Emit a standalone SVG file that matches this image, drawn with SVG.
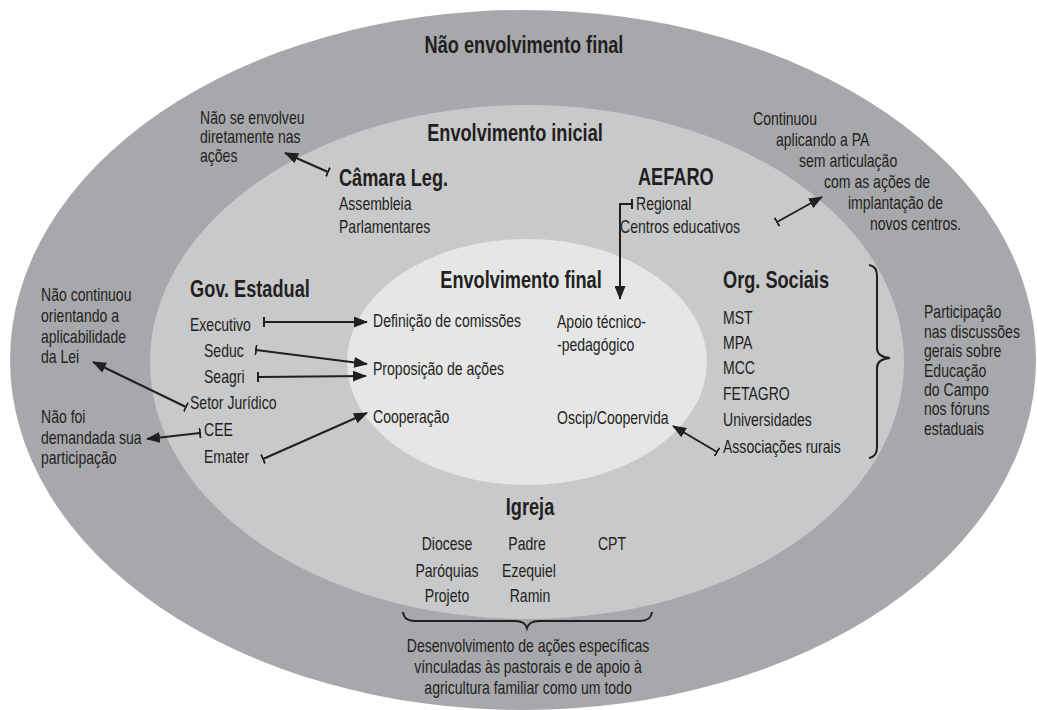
<svg xmlns="http://www.w3.org/2000/svg" width="1037" height="710" viewBox="0 0 1037 710">
<style>
text{font-family:"Liberation Sans",Arial,sans-serif;fill:#231f20;font-size:18px;}
.b{font-weight:bold;font-size:23px;}
.m{text-anchor:middle;}
.c{fill:none;stroke:#231f20;stroke-width:2;}
</style>
<defs>
<marker id="arr" viewBox="0 0 14 11" refX="13" refY="5.5" markerWidth="14" markerHeight="11" markerUnits="userSpaceOnUse" orient="auto"><path d="M0,0 L14,5.5 L0,11 z" fill="#231f20"/></marker>
<marker id="tick" viewBox="0 0 2 10" refX="1" refY="5" markerWidth="2" markerHeight="10" markerUnits="userSpaceOnUse" orient="auto"><rect width="2" height="10" fill="#231f20"/></marker>
</defs>
<rect width="1037" height="710" fill="#ffffff"/>
<g id="rings">
<ellipse cx="523" cy="360" rx="513" ry="350" fill="#a7a8ab"/>
<ellipse cx="527" cy="362" rx="377" ry="257" fill="#c8c9cb"/>
<ellipse cx="527" cy="362" rx="180" ry="123" fill="#e6e6e7"/>
</g>
<g id="outer-labels">
<text class="b m" transform="translate(524,53) scale(0.79,1)">Não envolvimento final</text>
<text transform="translate(200,124) scale(0.78,1)">Não se envolveu</text>
<text transform="translate(200,143) scale(0.78,1)">diretamente nas</text>
<text transform="translate(200,162) scale(0.78,1)">ações</text>
<text transform="translate(753,125) scale(0.78,1)">Continuou</text>
<text transform="translate(776,146) scale(0.78,1)">aplicando a PA</text>
<text transform="translate(799,167) scale(0.78,1)">sem articulação</text>
<text transform="translate(824,188) scale(0.78,1)">com as ações de</text>
<text transform="translate(848,209) scale(0.78,1)">implantação de</text>
<text transform="translate(870,230) scale(0.78,1)">novos centros.</text>
<text transform="translate(41,301) scale(0.78,1)">Não continuou</text>
<text transform="translate(41,322) scale(0.78,1)">orientando a</text>
<text transform="translate(41,343) scale(0.78,1)">aplicabilidade</text>
<text transform="translate(41,363) scale(0.78,1)">da Lei</text>
<text transform="translate(41,423) scale(0.78,1)">Não foi</text>
<text transform="translate(41,444) scale(0.78,1)">demandada sua</text>
<text transform="translate(41,464) scale(0.78,1)">participação</text>
<text transform="translate(924,318) scale(0.78,1)">Participação</text>
<text transform="translate(924,338) scale(0.78,1)">nas discussões</text>
<text transform="translate(924,357) scale(0.78,1)">gerais sobre</text>
<text transform="translate(924,377) scale(0.78,1)">Educação</text>
<text transform="translate(924,396) scale(0.78,1)">do Campo</text>
<text transform="translate(924,415) scale(0.78,1)">nos fóruns</text>
<text transform="translate(924,435) scale(0.78,1)">estaduais</text>
<text class="m" transform="translate(528,652) scale(0.78,1)">Desenvolvimento de ações específicas</text>
<text class="m" transform="translate(528,673) scale(0.78,1)">vínculadas às pastorais e de apoio à</text>
<text class="m" transform="translate(528,694) scale(0.78,1)">agricultura familiar como um todo</text>
</g>
<g id="envolvimento-inicial">
<text class="b m" transform="translate(515,141) scale(0.79,1)">Envolvimento inicial</text>
</g>
<g id="camara">
<text class="b" transform="translate(339,186) scale(0.79,1)">Câmara Leg.</text>
<text transform="translate(339,210) scale(0.78,1)">Assembleia</text>
<text transform="translate(339,233) scale(0.78,1)">Parlamentares</text>
</g>
<g id="aefaro">
<text class="b" transform="translate(638,185) scale(0.79,1)">AEFARO</text>
<text transform="translate(636,210) scale(0.78,1)">Regional</text>
<text transform="translate(620,233) scale(0.78,1)">Centros educativos</text>
</g>
<g id="gov">
<text class="b" transform="translate(190,297) scale(0.79,1)">Gov. Estadual</text>
<text transform="translate(190,331) scale(0.78,1)">Executivo</text>
<text transform="translate(204,357) scale(0.78,1)">Seduc</text>
<text transform="translate(204,383) scale(0.78,1)">Seagri</text>
<text transform="translate(190,409) scale(0.78,1)">Setor Jurídico</text>
<text transform="translate(204,436) scale(0.78,1)">CEE</text>
<text transform="translate(204,463) scale(0.78,1)">Emater</text>
</g>
<g id="org">
<text class="b" transform="translate(723,288) scale(0.79,1)">Org. Sociais</text>
<text transform="translate(723,324) scale(0.78,1)">MST</text>
<text transform="translate(723,349) scale(0.78,1)">MPA</text>
<text transform="translate(723,374) scale(0.78,1)">MCC</text>
<text transform="translate(723,400) scale(0.78,1)">FETAGRO</text>
<text transform="translate(723,426) scale(0.78,1)">Universidades</text>
<text transform="translate(723,453) scale(0.78,1)">Associações rurais</text>
</g>
<g id="igreja">
<text class="b m" transform="translate(530,515) scale(0.79,1)">Igreja</text>
<text class="m" transform="translate(447,550) scale(0.78,1)">Diocese</text>
<text class="m" transform="translate(447,577) scale(0.78,1)">Paróquias</text>
<text class="m" transform="translate(447,602) scale(0.78,1)">Projeto</text>
<text class="m" transform="translate(527,550) scale(0.78,1)">Padre</text>
<text class="m" transform="translate(529,577) scale(0.78,1)">Ezequiel</text>
<text class="m" transform="translate(530,602) scale(0.78,1)">Ramin</text>
<text class="m" transform="translate(612,550) scale(0.78,1)">CPT</text>
</g>
<g id="final">
<text class="b m" transform="translate(521,288) scale(0.79,1)">Envolvimento final</text>
<text transform="translate(373,327) scale(0.78,1)">Definição de comissões</text>
<text transform="translate(373,375) scale(0.78,1)">Proposição de ações</text>
<text transform="translate(373,423) scale(0.78,1)">Cooperação</text>
<text transform="translate(557,328) scale(0.78,1)">Apoio técnico-</text>
<text transform="translate(557,351) scale(0.78,1)">-pedagógico</text>
<text transform="translate(557,424) scale(0.78,1)">Oscip/Coopervida</text>
</g>
<g id="connectors">
<path class="c" d="M328,172 L285,153" marker-start="url(#tick)" marker-end="url(#arr)"/>
<path class="c" d="M777,222 L822,197" marker-start="url(#tick)" marker-end="url(#arr)"/>
<path class="c" d="M632,204 L620,204 L620,299" marker-start="url(#tick)" marker-end="url(#arr)"/>
<path class="c" d="M264,322 L367,322" marker-start="url(#tick)" marker-end="url(#arr)"/>
<path class="c" d="M256,350 L367,364" marker-start="url(#tick)" marker-end="url(#arr)"/>
<path class="c" d="M258,377 L366,376" marker-start="url(#tick)" marker-end="url(#arr)"/>
<path class="c" d="M263,459 L367,413" marker-start="url(#tick)" marker-end="url(#arr)"/>
<path class="c" d="M186,407 L93,362" marker-start="url(#tick)" marker-end="url(#arr)"/>
<path class="c" d="M200,433 L147,439" marker-start="url(#tick)" marker-end="url(#arr)"/>
<path class="c" d="M717,452 L673,426" marker-start="url(#tick)" marker-end="url(#arr)"/>
<path class="c" d="M869,265 Q877,266 877,276 L877,348 Q877,357 890,358 Q877,359 877,368 L877,447 Q877,457 869,458"/>
<path class="c" d="M403,612 Q404,621 415,621 L515,621 Q525,621 527,628 Q529,621 539,621 L640,621 Q651,621 652,612"/>
</g>
</svg>
